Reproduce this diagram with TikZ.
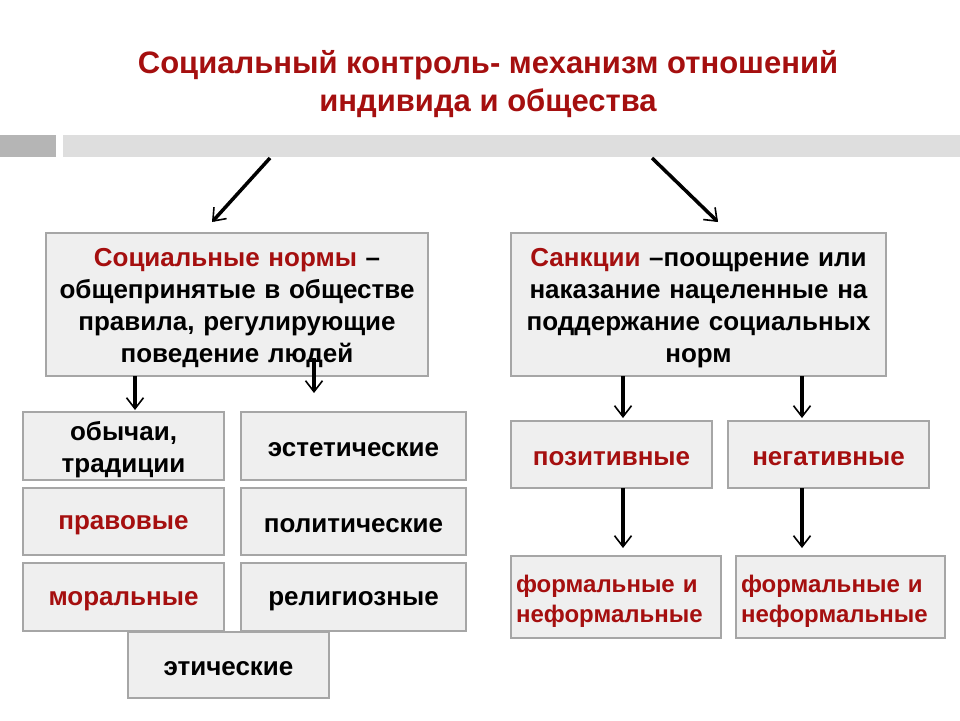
\documentclass[tikz,border=0pt]{standalone}
\usepackage{fontspec}
\setmainfont{Liberation Sans}
\usetikzlibrary{arrows.meta}
\definecolor{rd}{HTML}{A50F0F}
\definecolor{bx}{HTML}{EFEFEF}
\definecolor{bd}{HTML}{A6A6A6}
\tikzset{
 bbox/.style={draw=bd,fill=bx,line width=1.5pt,inner sep=0pt},
 btext/.style={align=center,inner sep=0pt,font=\bfseries\fontsize{26}{32}\selectfont},
 small/.style={font=\bfseries\fontsize{24}{30}\selectfont,align=left},
 arr/.style={line width=3.5pt,-{Straight Barb[length=11pt,width=17pt,line width=1.6pt]}}
}
\newcommand{\bxat}[7][]{\node[bbox,minimum width=#4-#2,minimum height=#5-#3] (#6) at ({(#2+#4)/2},{(#3+#5)/2}) {};
 \node[btext,text width=#4-#2-10,#1] (#6t) at ([yshift=-4pt]#6.center) {#7};}
\begin{document}
\begin{tikzpicture}[x=1pt,y=-1pt]
\useasboundingbox[fill=white] (0,0) rectangle (960,720);
\node[font=\bfseries\fontsize{31}{38}\selectfont,text=rd,align=center] (title) at (488,84) {Социальный контроль- механизм отношений\\индивида и общества};
\fill[fill=black!29] (0,135) rectangle (56,157);
\fill[fill=black!13] (63,135) rectangle (960,157);
\coordinate (t1) at (270,158); \coordinate (t2) at (652,158);
\bxat{46}{233}{428}{376}{norms}{\textcolor{rd}{Социальные нормы} –\\общепринятые в обществе\\правила, регулирующие\\поведение людей}
\bxat{511}{233}{886}{376}{sanc}{\textcolor{rd}{Санкции} –поощрение или\\наказание нацеленные на\\поддержание социальных\\норм}
\bxat{23}{412}{224}{480}{a}{обычаи,\\традиции}
\bxat{241}{412}{466}{480}{b}{эстетические}
\bxat{23}{488}{224}{555}{c}{\textcolor{rd}{правовые}}
\bxat{241}{488}{466}{555}{d}{политические}
\bxat{23}{563}{224}{631}{e}{\textcolor{rd}{моральные}}
\bxat{241}{563}{466}{631}{f}{религиозные}
\bxat{128}{632}{329}{698}{g}{этические}
\bxat{511}{421}{712}{488}{pos}{\textcolor{rd}{позитивные}}
\bxat{728}{421}{929}{488}{neg}{\textcolor{rd}{негативные}}
\bxat[small]{511}{556}{721}{638}{f1}{\textcolor{rd}{формальные и\\неформальные}}
\bxat[small]{736}{556}{945}{638}{f2}{\textcolor{rd}{формальные и\\неформальные}}
\draw[arr] (t1) -- (212,222);
\draw[arr] (t2) -- (718,222);
\draw[arr] (135,376) -- (135,410);
\coordinate (n2) at (314,358);
\draw[arr] (n2) -- (314,393);
\draw[arr] (623,376) -- (623,418);
\draw[arr] (802,376) -- (802,418);
\draw[arr] (623,488) -- (623,548);
\draw[arr] (802,488) -- (802,548);
\end{tikzpicture}
\end{document}
